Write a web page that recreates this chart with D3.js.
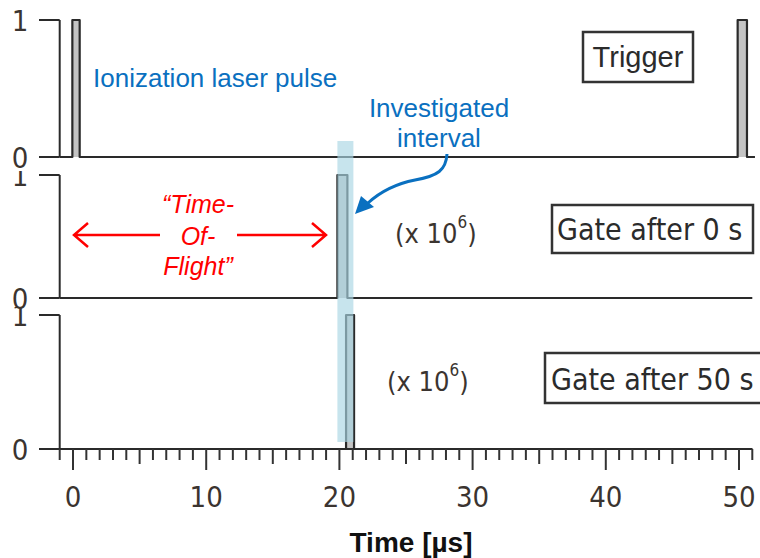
<!DOCTYPE html>
<html>
<head>
<meta charset="utf-8">
<script src="https://cdn.jsdelivr.net/npm/d3@7"></script>
<style>
  html, body { margin: 0; padding: 0; background: #fff; }
  svg { display: block; }
  .tahoma { font-family: "DejaVu Sans Condensed", "DejaVu Sans", sans-serif; font-stretch: condensed; }
  .arial { font-family: "Liberation Sans", Arial, sans-serif; }
</style>
</head>
<body>
<svg id="chart" width="760" height="558"></svg>
<script>
// Pulse timings in microseconds: [rise, fall]
const triggerPulses = [[-0.05, 0.5], [49.9, 50.6]];
const gate0Pulses = [[19.85, 20.6]];
const gate50Pulses = [[20.5, 21.1]];
const investigatedInterval = [19.85, 21.05];

const panelNames = ["Trigger", "Gate after 0 s", "Gate after 50 s"];
const levelTicks = [0, 1];
const timeTicksMajor = [0, 10, 20, 30, 40, 50];
const timeDomain = [-1, 51];
const multiplierBase = "(x 10";
const multiplierExp = "6";

const svg = d3.select("#chart");
const ink = "#2a2a2a";

const x = d3.scaleLinear().domain(timeDomain).range([59.7, 752.3]);

// vertical layout of the three stacked traces
const panels = [
  { pulses: triggerPulses, range: [157, 20], end: 51.2, labelClip: 0 },
  { pulses: gate0Pulses,   range: [298, 175], end: 51.0, labelClip: 171 },
  { pulses: gate50Pulses,  range: [449, 315], end: 51.0, labelClip: 307 }
];

function stepSeries(pulses, end) {
  const pts = [{ t: timeDomain[0], v: 0 }];
  pulses.forEach(([s, e]) => {
    pts.push({ t: s, v: 0 }, { t: s, v: 1 }, { t: e, v: 1 }, { t: e, v: 0 });
  });
  pts.push({ t: end, v: 0 });
  return pts;
}

const defs = svg.append("defs");

panels.forEach((p, i) => {
  const y = d3.scaleLinear().domain([0, 1]).range(p.range);
  const g = svg.append("g");

  // level axis: short ticks at 0 and 1 plus the vertical spine
  g.append("line").attr("x1", x(timeDomain[0])).attr("x2", x(timeDomain[0]))
    .attr("y1", y(1)).attr("y2", y(0)).attr("stroke", ink).attr("stroke-width", 2);
  levelTicks.forEach(v => {
    g.append("line").attr("x1", 39).attr("x2", x(timeDomain[0]))
      .attr("y1", y(v)).attr("y2", y(v)).attr("stroke", ink).attr("stroke-width", 2);
  });

  // level labels, the "1" partly hidden behind the panel above
  defs.append("clipPath").attr("id", "lc" + i)
    .append("rect").attr("x", 0).attr("y", p.labelClip).attr("width", 40).attr("height", 600);
  g.append("g").attr("clip-path", `url(#lc${i})`)
    .selectAll("text").data(levelTicks).join("text")
    .attr("class", "tahoma")
    .attr("x", 20).attr("y", v => y(v) + 10.5)
    .attr("text-anchor", "middle")
    .attr("font-size", 29).attr("fill", "#3b3430")
    .text(d => d);

  const series = stepSeries(p.pulses, p.end);
  const area = d3.area().x(d => x(d.t)).y0(y(0)).y1(d => y(d.v));
  const line = d3.line().x(d => x(d.t)).y(d => y(d.v));

  g.append("path").attr("d", area(series)).attr("fill", "#c4c4c4");
  g.append("path").attr("d", line(series)).attr("fill", "none")
    .attr("stroke", ink).attr("stroke-width", 2.2).attr("stroke-linejoin", "round");
});

// time axis along the bottom trace
const yAxis = 449;
const axisG = svg.append("g");
axisG.append("line").attr("x1", 39).attr("x2", x(timeDomain[1]))
  .attr("y1", yAxis).attr("y2", yAxis).attr("stroke", ink).attr("stroke-width", 2.2);
const allTicks = d3.range(timeDomain[0], timeDomain[1] + 1);
axisG.selectAll("line.tk").data(allTicks).join("line").attr("class", "tk")
  .attr("x1", d => x(d)).attr("x2", d => x(d))
  .attr("y1", yAxis)
  .attr("y2", d => yAxis + (d % 10 === 0 ? 21 : d % 5 === 0 ? 15 : 11))
  .attr("stroke", "#333").attr("stroke-width", 2);
axisG.selectAll("text").data(timeTicksMajor).join("text")
  .attr("class", "tahoma")
  .attr("x", d => x(d)).attr("y", 507)
  .attr("text-anchor", "middle").attr("font-size", 29).attr("fill", "#3b3430")
  .text(d => d);

svg.append("text").attr("class", "arial")
  .attr("x", 411).attr("y", 552)
  .attr("text-anchor", "middle").attr("font-size", 28).attr("font-weight", "bold")
  .attr("fill", "#111")
  .text("Time [µs]");

// highlighted time window
svg.append("rect")
  .attr("x", x(investigatedInterval[0])).attr("width", x(investigatedInterval[1]) - x(investigatedInterval[0]))
  .attr("y", 141).attr("height", 301)
  .attr("fill", "#a9d6e3").attr("opacity", 0.65);

// legend boxes
const boxes = [
  { x: 583, y: 32, w: 110, h: 50, tx: 638, ty: 67, anchor: "middle", cls: "arial", fs: 29 },
  { x: 552, y: 205, w: 201, h: 48, tx: 557, ty: 240, anchor: "start", cls: "tahoma", fs: 30 },
  { x: 545, y: 353, w: 230, h: 50, tx: 551, ty: 390, anchor: "start", cls: "tahoma", fs: 30 }
];
boxes.forEach((b, i) => {
  svg.append("rect").attr("x", b.x).attr("y", b.y).attr("width", b.w).attr("height", b.h)
    .attr("fill", "#fff").attr("stroke", "#333").attr("stroke-width", 2.5);
  svg.append("text").attr("class", b.cls)
    .attr("x", b.tx).attr("y", b.ty).attr("text-anchor", b.anchor)
    .attr("font-size", b.fs).attr("fill", "#2b2b2b")
    .text(panelNames[i]);
});

// scale multipliers for the gate traces
[[395, 243], [387, 391]].forEach(([tx, ty]) => {
  const t = svg.append("text").attr("class", "tahoma")
    .attr("x", tx).attr("y", ty).attr("font-size", 27).attr("fill", "#3b3430");
  t.append("tspan").text(multiplierBase);
  t.append("tspan").attr("dy", -15).attr("font-size", 17).text(multiplierExp);
  t.append("tspan").attr("dy", 15).text(")");
});

// blue annotations
const blue = "#0a70c0";
svg.append("text").attr("class", "arial").attr("x", 93).attr("y", 87)
  .attr("font-size", 26).attr("fill", blue).text("Ionization laser pulse");
svg.append("text").attr("class", "arial").attr("x", 439).attr("y", 117)
  .attr("text-anchor", "middle").attr("font-size", 26).attr("fill", blue).text("Investigated");
svg.append("text").attr("class", "arial").attr("x", 439).attr("y", 147)
  .attr("text-anchor", "middle").attr("font-size", 26).attr("fill", blue).text("interval");

svg.append("path")
  .attr("d", "M447,154 C446,170 438,176 415,180 C395,184 380,192 368,203")
  .attr("fill", "none").attr("stroke", blue).attr("stroke-width", 3);
svg.append("path")
  .attr("d", "M355,214 L361,196 L374,207 Z")
  .attr("fill", blue);

// time-of-flight annotation
const red = "#ff0000";
[["“Time-", 213], ["Of-", 245], ["Flight”", 275]].forEach(([s, ty]) => {
  svg.append("text").attr("class", "arial").attr("x", 198).attr("y", ty)
    .attr("text-anchor", "middle").attr("font-size", 25).attr("font-style", "italic")
    .attr("fill", red).text(s);
});
const ya = 235;
svg.append("path")
  .attr("d", `M160,${ya} L74,${ya} M88,${ya - 12} L74,${ya} L88,${ya + 12}`)
  .attr("fill", "none").attr("stroke", red).attr("stroke-width", 2.5);
svg.append("path")
  .attr("d", `M237,${ya} L326,${ya} M312,${ya - 12} L326,${ya} L312,${ya + 12}`)
  .attr("fill", "none").attr("stroke", red).attr("stroke-width", 2.5);
</script>
</body>
</html>
